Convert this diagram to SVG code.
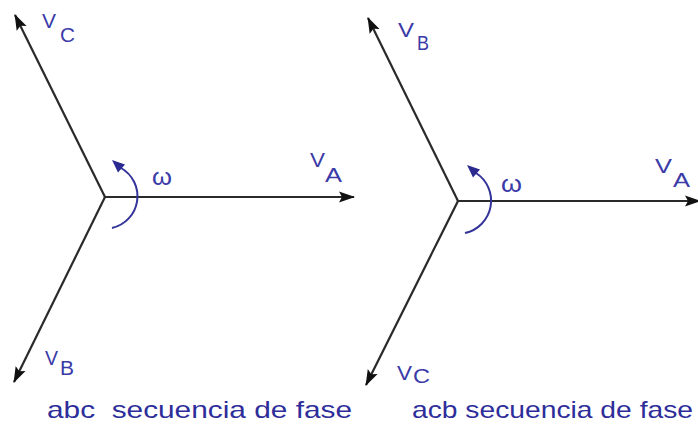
<svg xmlns="http://www.w3.org/2000/svg" width="698" height="438" viewBox="0 0 698 438">
<defs>
<style>
.ph{stroke:#2a2a2a;stroke-width:2.2;fill:none;marker-end:url(#ah)}
.rot{stroke:#33339a;stroke-width:2;fill:none}
.rh{fill:#2a2a90}
.lb{font-family:"Liberation Sans",Arial,sans-serif;fill:#3a3aa8;font-size:20px}
.om{font-family:"Liberation Sans",Arial,sans-serif;fill:#3a3aa8;font-size:24px}
.cap{font-family:"Liberation Sans",Arial,sans-serif;fill:#2e2e9a;font-size:24px}
</style>
<marker id="ah" markerUnits="userSpaceOnUse" markerWidth="16" markerHeight="12" refX="15" refY="6" orient="auto">
<path d="M0,0.5 L16,6 L0,11.5 L3,6 z" fill="#111"/>
</marker>
</defs>
<rect width="698" height="438" fill="#ffffff"/>
<g id="connectors">
<line class="ph" x1="105" y1="197" x2="354" y2="197"/>
<line class="ph" x1="105" y1="197" x2="15" y2="15"/>
<line class="ph" x1="105" y1="197" x2="14" y2="382"/>
<path class="rot" d="M112 228 A32.5 32.5 0 0 0 121 168"/>
<polygon class="rh" points="112,160 125,164.5 118,172.5"/>
<line class="ph" x1="458" y1="201" x2="700" y2="201"/>
<line class="ph" x1="458" y1="201" x2="368" y2="18"/>
<line class="ph" x1="458" y1="201" x2="366" y2="385"/>
<path class="rot" d="M465 233 A33 33 0 0 0 476 173"/>
<polygon class="rh" points="467,165 480,169.5 473,177.5"/>
</g>
<g id="abc-VC"><text class="lb" x="42" y="28" textLength="14" lengthAdjust="spacingAndGlyphs">V</text><text class="lb" x="60" y="42" textLength="15" lengthAdjust="spacingAndGlyphs">C</text></g>
<g id="abc-VA"><text class="lb" x="310" y="167" textLength="15" lengthAdjust="spacingAndGlyphs">V</text><text class="lb" x="325" y="182" textLength="17" lengthAdjust="spacingAndGlyphs">A</text></g>
<g id="abc-VB"><text class="lb" x="45" y="365" textLength="13" lengthAdjust="spacingAndGlyphs">V</text><text class="lb" x="60" y="375" textLength="14" lengthAdjust="spacingAndGlyphs">B</text></g>
<g id="abc-omega"><text class="om" x="152" y="185" textLength="20" lengthAdjust="spacingAndGlyphs">ω</text></g>
<g id="abc-caption"><text class="cap" x="47" y="418" textLength="305" lengthAdjust="spacingAndGlyphs">abc&#160; secuencia de fase</text></g>
<g id="acb-VB"><text class="lb" x="398" y="37" textLength="16" lengthAdjust="spacingAndGlyphs">V</text><text class="lb" x="417" y="50" textLength="12" lengthAdjust="spacingAndGlyphs">B</text></g>
<g id="acb-VA"><text class="lb" x="655" y="173" textLength="17" lengthAdjust="spacingAndGlyphs">V</text><text class="lb" x="673" y="187" textLength="17" lengthAdjust="spacingAndGlyphs">A</text></g>
<g id="acb-VC"><text class="lb" x="397" y="380" textLength="15" lengthAdjust="spacingAndGlyphs">V</text><text class="lb" x="413" y="383" textLength="17" lengthAdjust="spacingAndGlyphs">C</text></g>
<g id="acb-omega"><text class="om" x="501" y="192" textLength="21" lengthAdjust="spacingAndGlyphs">ω</text></g>
<g id="acb-caption"><text class="cap" x="412" y="418" textLength="281" lengthAdjust="spacingAndGlyphs">acb secuencia de fase</text></g>
</svg>
